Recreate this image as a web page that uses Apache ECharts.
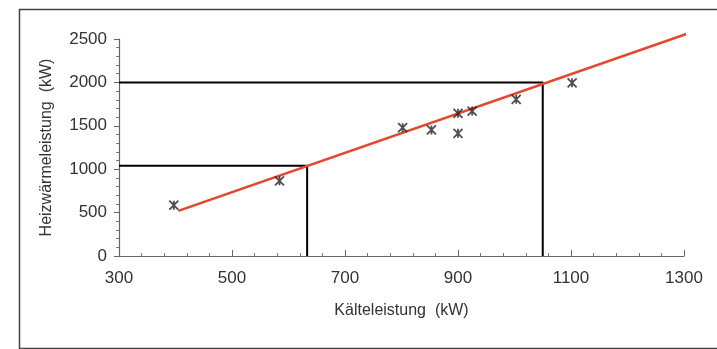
<!DOCTYPE html>
<html>
<head>
<meta charset="utf-8">
<script src="https://cdn.jsdelivr.net/npm/echarts@6/dist/echarts.min.js"></script>
<style>html,body{margin:0;padding:0;background:#fff;}#c{width:717px;height:349px;}</style>
</head>
<body>
<div id="c"></div>
<script>
// Data
var kaelteleistung = [397, 584, 802, 853, 900, 925, 900, 1003, 1102];
var heizwaermeleistung = [585, 866, 1478, 1452, 1644, 1670, 1414, 1805, 1995];
var trendX = [405, 1310];
var trendY = [520, 2570];
var guideLow = {x: 633, y: 1040};
var guideHigh = {x: 1050, y: 2000};
var xTicks = [300, 500, 700, 900, 1100, 1300];
var yTicks = [0, 500, 1000, 1500, 2000, 2500];

var chart = echarts.init(document.getElementById('c'), null, {renderer: 'canvas'});
var font = 'Liberation Sans, Arial, sans-serif';
var points = kaelteleistung.map(function (v, i) { return [v, heizwaermeleistung[i]]; });
var trend = trendX.map(function (v, i) { return [v, trendY[i]]; });
function guide(g) { return [[xTicks[0], g.y], [g.x, g.y], [g.x, yTicks[0]]]; }
function plain(v) { return String(v); }

chart.setOption({
  animation: false,
  backgroundColor: '#fff',
  graphic: [{
    type: 'rect', left: 17, top: 7,
    shape: {width: 720, height: 339},
    style: {fill: 'none', stroke: '#444', lineWidth: 1.5}
  }],
  grid: {left: 119, right: 33, top: 39, bottom: 93},
  xAxis: {
    type: 'value', min: xTicks[0], max: xTicks[xTicks.length - 1], interval: 200,
    name: 'Kälteleistung  (kW)', nameLocation: 'middle', nameGap: 47,
    nameTextStyle: {fontFamily: font, fontSize: 16, color: '#333'},
    axisLine: {lineStyle: {color: '#666', width: 1.2}},
    axisTick: {inside: true, length: 6, lineStyle: {color: '#666'}},
    minorTick: {show: true, splitNumber: 5, length: 3, lineStyle: {color: '#777'}},
    splitLine: {show: false},
    axisLabel: {fontFamily: font, fontSize: 17, color: '#333', margin: 14, formatter: plain}
  },
  yAxis: {
    type: 'value', min: yTicks[0], max: yTicks[yTicks.length - 1], interval: 500,
    name: 'Heizwärmeleistung  (kW)', nameLocation: 'middle', nameGap: 64,
    nameTextStyle: {fontFamily: font, fontSize: 16, color: '#333'},
    axisLine: {show: true, lineStyle: {color: '#666', width: 1.2}},
    axisTick: {show: true, length: 5, lineStyle: {color: '#666'}},
    minorTick: {show: true, splitNumber: 5, length: 3, lineStyle: {color: '#777'}},
    splitLine: {show: false},
    axisLabel: {fontFamily: font, fontSize: 17, color: '#333', margin: 12, formatter: plain}
  },
  series: [
    {
      type: 'line', data: guide(guideLow), symbol: 'none', silent: true,
      lineStyle: {color: '#000', width: 2}, z: 2
    },
    {
      type: 'line', data: guide(guideHigh), symbol: 'none', silent: true,
      lineStyle: {color: '#000', width: 2}, z: 2
    },
    {
      type: 'line', data: trend, symbol: 'none', clip: false, silent: true,
      lineStyle: {color: '#e8452a', width: 2.5}, z: 3
    },
    {
      type: 'scatter', data: points, z: 4,
      symbol: 'path://M0,0 L10,10 M10,0 L0,10 M5,0 L5,10',
      symbolSize: [9, 9],
      itemStyle: {color: 'none', borderColor: '#222', borderWidth: 1.8}
    }
  ]
});
</script>
</body>
</html>
